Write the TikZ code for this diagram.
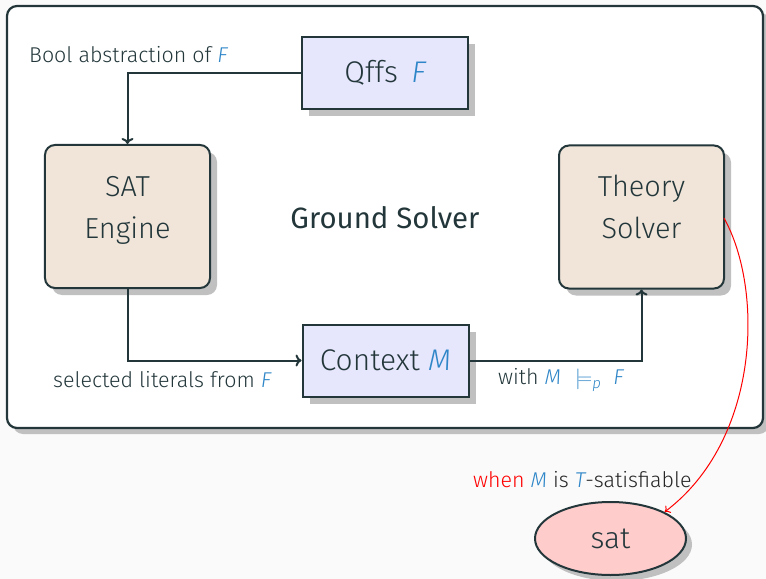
\documentclass[tikz,border=0pt]{standalone}
\usepackage{fontspec}
\setmainfont{Fira Sans}[UprightFont={* Light},ItalicFont={* Light Italic}]
\newfontfamily\bookfont{Fira Sans}
\usetikzlibrary{shapes.geometric,shadows,arrows.meta}
\definecolor{ink}{HTML}{23373B}
\definecolor{mathblue}{HTML}{2E86C8}
\definecolor{pagebg}{HTML}{FAFAFA}
\definecolor{lav}{HTML}{E6E6FC}
\definecolor{beige}{HTML}{F1E5D9}
\definecolor{pinkfill}{HTML}{FFCCCC}
\definecolor{shadowgrey}{HTML}{C0C0C0}
\newcommand{\mv}[1]{{\color{mathblue}\itshape #1}}
\tikzset{
  boxshadow/.style={drop shadow={shadow xshift=7bp,shadow yshift=-7bp,fill=shadowgrey,opacity=1}},
  databox/.style={draw=ink,line width=2bp,fill=lav,rectangle,boxshadow,
    minimum width=166bp,minimum height=72bp,inner sep=0pt,font=\fontsize{30}{36}\selectfont,text=ink},
  solverbox/.style={draw=ink,line width=2bp,fill=beige,rectangle,rounded corners=10bp,boxshadow,
    minimum width=165bp,minimum height=143bp,inner sep=0pt},
  boxtext/.style={align=center,font=\fontsize{29}{42}\selectfont,text=ink,inner sep=0pt,anchor=base},
  resultnode/.style={draw=ink,line width=2bp,fill=pinkfill,ellipse,
    drop shadow={shadow xshift=6bp,shadow yshift=-6bp,fill=shadowgrey,opacity=1},
    minimum width=151bp,minimum height=73bp,inner sep=0pt,font=\fontsize{30}{36}\selectfont,text=ink},
  flow/.style={draw=ink,line width=2bp,-{To[length=6bp,width=12bp]}},
  lbl/.style={font=\fontsize{21.5}{26}\selectfont,text=ink,inner sep=0pt},
}
\begin{document}
\begin{tikzpicture}[x=1bp,y=-1bp]
  % page
  \fill[pagebg] (0,0) rectangle (766,579);
  \useasboundingbox (0,0) rectangle (766,579);

  % enclosing ground-solver frame
  \fill[shadowgrey,rounded corners=10bp] (13,12) rectangle (769,434);
  \node[draw=ink,line width=2.2bp,fill=white,rounded corners=10bp,
        minimum width=756bp,minimum height=422bp,inner sep=0pt] (frame) at (385,217) {};

  \node[font=\bookfont\fontsize{29.5}{34}\selectfont,text=ink] (title) at (385,218) {Ground Solver};

  \node[databox] (qffs) at (385,73) {Qffs\, \mv{F}};
  \node[solverbox] (sat) at (127.5,216.5) {};
  \node[boxtext] (sattext) at (127.5,238) {SAT\\Engine};
  \node[solverbox] (theory) at (641.5,217) {};
  \node[boxtext] (theorytext) at (641.5,238) {Theory\\Solver};
  \node[databox] (ctx) at (385.5,360.5) {Context \mv{M}};
  \node[resultnode] (res) at (610.5,538.5) {sat};

  % connectors
  \draw[flow] (qffs.west) -| (sat.north);
  \draw[flow] (sat.south) |- (ctx.west);
  \draw[flow] (ctx.east) -| (theory.south);

  \coordinate (tout) at (724,218);
  \draw[red,line width=1bp,-{To[length=5bp,width=9bp]}]
    (tout) .. controls (764,290) and (760,440) .. (res.north east);

  % labels
  \node[lbl,anchor=west] (l1) at (29,55) {Bool abstraction of \mv{F}};
  \node[lbl,anchor=west] (l2) at (53,380) {selected literals from \mv{F}};
  \node[lbl,anchor=west] (l3) at (498,380) {with \mv{M}\hspace{14bp}{\color{mathblue}$\models_{\mathit{p}}$}\hspace{12bp}\mv{F}};
  \node[lbl,anchor=west] (l4) at (473,480) {{\color{red}when} \mv{M} {\color{black!85}is} \mv{T}{\color{black!85}-satisfiable}};
\end{tikzpicture}
\end{document}
